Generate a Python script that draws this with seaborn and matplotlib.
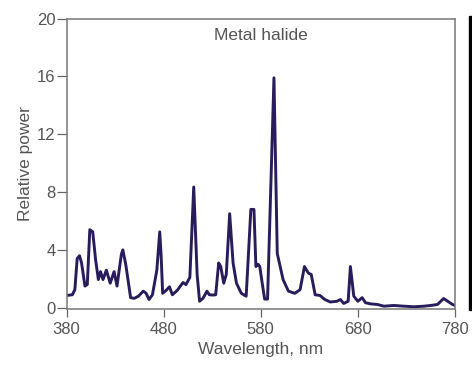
import seaborn as sns
import matplotlib.pyplot as plt
import pandas as pd
from matplotlib.patches import Rectangle

# spectrum
wavelength = [380, 386, 388.6, 391, 393.4, 395.5, 399, 401.4, 404, 407, 410, 412.8, 415, 417.6,
              421, 425, 429, 432, 436.5, 438, 441, 446, 449.7, 454, 459, 462, 465, 468.5, 473,
              476, 477.5, 479, 482.5, 486, 489, 494, 500, 503, 507, 511, 514.5, 517, 520.5,
              524.6, 527, 531, 533.6, 536.7, 538.8, 541.9, 544.5, 548, 551.5, 555, 560, 565,
              569.8, 573, 575, 577.4, 579, 581.5, 584, 587, 593.6, 597, 600, 603, 608.5, 615,
              620.5, 625, 629, 632, 636, 641, 646, 651.6, 658.5, 662, 665.4, 670, 672.3, 675.8,
              680, 684.4, 687.8, 693, 700, 706.8, 717, 727.5, 737.9, 748, 755, 762, 768.3,
              772.5, 777.4, 780]
power = [0.85, 0.9, 1.25, 3.4, 3.6, 3.1, 1.5, 1.6, 5.4, 5.25, 3.3, 1.95, 2.5, 1.95,
         2.6, 1.7, 2.5, 1.5, 3.7, 4.0, 3.0, 0.7, 0.65, 0.8, 1.15, 1.0, 0.57, 0.9, 2.6,
         5.25, 3.5, 1.0, 1.2, 1.45, 0.9, 1.2, 1.75, 1.6, 2.1, 8.35, 2.3, 0.45, 0.65,
         1.15, 0.9, 0.88, 0.9, 3.1, 2.85, 1.7, 2.3, 6.5, 3.1, 1.7, 1.0, 0.8,
         6.8, 6.8, 2.85, 3.0, 2.85, 1.7, 0.6, 0.6, 15.9, 3.75, 2.85, 1.95, 1.15, 1.0,
         1.25, 2.85, 2.4, 2.3, 0.9, 0.85, 0.57, 0.4, 0.45, 0.57, 0.3, 0.45, 2.85, 0.8,
         0.45, 0.7, 0.35, 0.27, 0.23, 0.11, 0.16, 0.11, 0.07, 0.11, 0.16, 0.23, 0.64,
         0.45, 0.23, 0.16]
x_ticks = [380, 480, 580, 680, 780]
y_ticks = [0, 4, 8, 12, 16, 20]

df = pd.DataFrame({'Wavelength': wavelength, 'Power': power})

sns.set_style('ticks')
plt.rcParams['font.family'] = ['Liberation Sans', 'DejaVu Sans']

fig = plt.figure(figsize=(4.72, 3.67), dpi=100)
ax = fig.add_axes([66.5 / 472, 1 - 308.5 / 367, 388.5 / 472, 290 / 367])

sns.lineplot(data=df, x='Wavelength', y='Power', ax=ax, color='#281c5a', linewidth=2.1)
for ln in ax.lines:
    ln.set_solid_joinstyle('round')
    ln.set_solid_capstyle('round')

ax.set_xlim(380, 780)
ax.set_ylim(-0.05, 20)
ax.set_xticks(x_ticks)
ax.set_yticks(y_ticks)
ax.tick_params(axis='y', direction='out', length=7, width=0.9, colors='#666666',
               labelsize=12, labelcolor='#555555', pad=1)
ax.tick_params(axis='x', direction='out', length=5.5, width=0.9, colors='#666666',
               labelsize=12, labelcolor='#555555', pad=4)
for s in ax.spines.values():
    s.set_color('#777777')
    s.set_linewidth(1.1)

ax.set_xlabel('Wavelength, nm', fontsize=12.5, color='#555555', labelpad=4)
ax.set_ylabel('Relative power', fontsize=12.5, color='#555555', labelpad=3)
ax.text(0.5, 0.94, 'Metal halide', transform=ax.transAxes, ha='center', va='center',
        fontsize=12.5, color='#555555')

# edge of the neighbouring panel in the scan
fig.patches.append(Rectangle((469 / 472, 1 - 310 / 367), 3 / 472, 294 / 367,
                             transform=fig.transFigure, color='black'))

fig.savefig('out.png', dpi=100)
